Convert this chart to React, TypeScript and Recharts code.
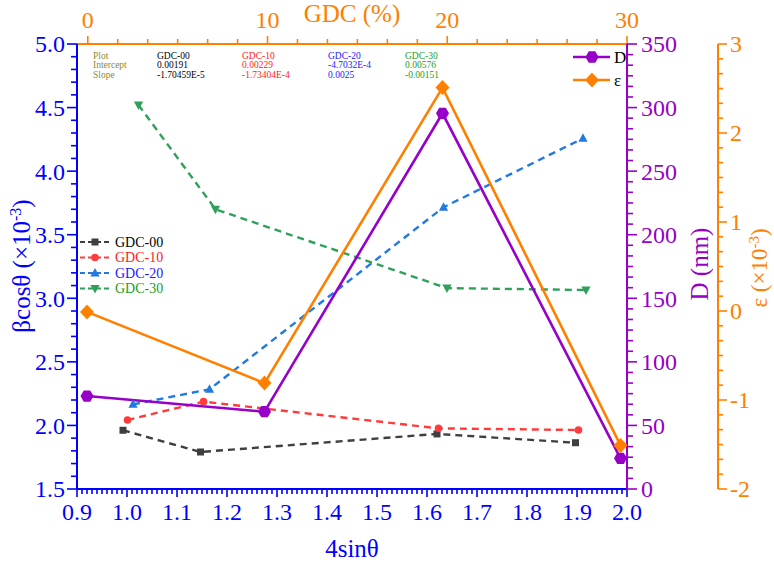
import React from 'react';
import { ComposedChart, Line, XAxis, YAxis, Legend } from 'recharts';

const W = 774;
const H = 565;
const FONT = "'Liberation Serif', 'Times New Roman', serif";

// ---- data ----
const xGdc00 = [0.992, 1.147, 1.62, 1.897];
const yGdc00 = [1.962, 1.791, 1.933, 1.864];
const xGdc10 = [1.001, 1.153, 1.623, 1.903];
const yGdc10 = [2.043, 2.187, 1.977, 1.964];
const xGdc20 = [1.012, 1.165, 1.633, 1.912];
const yGdc20 = [2.166, 2.284, 3.716, 4.258];
const xGdc30 = [1.023, 1.177, 1.64, 1.918];
const yGdc30 = [4.52, 3.7, 3.08, 3.065];

const xSize = [0.92, 1.275, 1.631, 1.987];
const dValues = [73.1, 60.8, 295.5, 24.1];
const epsValues = [-0.01, -0.81, 2.51, -1.51];

// ---- tick labels ----
const bottomMajor = [0.9, 1.0, 1.1, 1.2, 1.3, 1.4, 1.5, 1.6, 1.7, 1.8, 1.9, 2.0];
const leftMajor = [1.5, 2.0, 2.5, 3.0, 3.5, 4.0, 4.5, 5.0];
const dMajor = [0, 50, 100, 150, 200, 250, 300, 350];
const epsMajor = [-2, -1, 0, 1, 2, 3];
const topMajor = [0, 10, 20, 30];

const tableRows = ['Plot', 'Intercept', 'Slope'];
const tableCols = [
  { name: 'GDC-00', intercept: '0.00191', slope: '-1.70459E-5' },
  { name: 'GDC-10', intercept: '0.00229', slope: '-1.73404E-4' },
  { name: 'GDC-20', intercept: '-4.7032E-4', slope: '0.0025' },
  { name: 'GDC-30', intercept: '0.00576', slope: '-0.00151' },
];

// ---- colours ----
const C_AXIS = '#0000ff';
const C_ORANGE = '#ff8000';
const C_PURPLE = '#9600c8';
const C_GRAY = '#3f3f3f';
const C_RED = '#ff3b3b';
const C_BLUE = '#2279e0';
const C_GREEN = '#2ea05a';
const C_OLIVE = '#8b8b30';
const TBL_COLORS = ['#000000', '#ff2020', '#1a1aff', '#22a022'];

const zip = (xs: number[], ys: number[]) => xs.map((x, i) => ({ x, y: ys[i] }));

const s00 = zip(xGdc00, yGdc00);
const s10 = zip(xGdc10, yGdc10);
const s20 = zip(xGdc20, yGdc20);
const s30 = zip(xGdc30, yGdc30);
const sD = zip(xSize, dValues);
const sE = zip(xSize, epsValues);

function withMinor(majors: number[], parts: number): number[] {
  const out: number[] = [];
  for (let i = 0; i < majors.length; i++) {
    out.push(majors[i]);
    if (i < majors.length - 1) {
      const step = (majors[i + 1] - majors[i]) / parts;
      for (let k = 1; k < parts; k++) out.push(+(majors[i] + step * k).toFixed(5));
    }
  }
  return out;
}

// ---- markers ----
type MK = 'square' | 'circle' | 'triUp' | 'triDown' | 'hex' | 'diamond';
function Marker({ kind, cx, cy, color }: { kind: MK; cx: number; cy: number; color: string }) {
  switch (kind) {
    case 'square':
      return <rect x={cx - 3.5} y={cy - 3.5} width={7} height={7} fill={color} />;
    case 'circle':
      return <circle cx={cx} cy={cy} r={3.8} fill={color} />;
    case 'triUp':
      return <polygon points={`${cx},${cy - 5} ${cx - 4.6},${cy + 3.5} ${cx + 4.6},${cy + 3.5}`} fill={color} />;
    case 'triDown':
      return <polygon points={`${cx},${cy + 5} ${cx - 4.6},${cy - 3.5} ${cx + 4.6},${cy - 3.5}`} fill={color} />;
    case 'hex': {
      const r = 6.5;
      const pts = [0, 60, 120, 180, 240, 300]
        .map((a) => `${cx + r * Math.cos((a * Math.PI) / 180)},${cy + r * Math.sin((a * Math.PI) / 180)}`)
        .join(' ');
      return <polygon points={pts} fill={color} />;
    }
    case 'diamond':
      return <polygon points={`${cx},${cy - 7.5} ${cx + 7},${cy} ${cx},${cy + 7.5} ${cx - 7},${cy}`} fill={color} />;
  }
  return null;
}

const dotFor = (kind: MK, color: string) => (p: any) => {
  if (p.cx == null || p.cy == null) return <g key={p.index} />;
  return <Marker key={p.index} kind={kind} cx={p.cx} cy={p.cy} color={color} />;
};

// ---- ticks ----
type Side = 'left' | 'right' | 'bottom' | 'top';
interface TickCfg {
  side: Side;
  color: string;
  majors: number[];
  fmt: (v: number) => string;
  majorLen: number;
  minorLen: number;
  gap: number;
  fontSize: number;
}
const makeTick = (cfg: TickCfg) => (props: any) => {
  const { x, y, payload } = props;
  const v = payload.value as number;
  const isMajor = cfg.majors.some((m) => Math.abs(m - v) < 1e-6);
  const len = isMajor ? cfg.majorLen : cfg.minorLen;
  const common = { stroke: cfg.color, strokeWidth: 1.6 };
  let line: React.ReactNode = null;
  let label: React.ReactNode = null;
  const tp = { fill: cfg.color, fontSize: cfg.fontSize, style: { fontFamily: FONT } };
  if (cfg.side === 'left') {
    line = <line x1={x} y1={y} x2={x - len} y2={y} {...common} />;
    if (isMajor) label = <text x={x - len - cfg.gap} y={y} dy="0.35em" textAnchor="end" {...tp}>{cfg.fmt(v)}</text>;
  } else if (cfg.side === 'right') {
    line = <line x1={x} y1={y} x2={x + len} y2={y} {...common} />;
    if (isMajor) label = <text x={x + len + cfg.gap} y={y} dy="0.35em" textAnchor="start" {...tp}>{cfg.fmt(v)}</text>;
  } else if (cfg.side === 'bottom') {
    line = <line x1={x} y1={y} x2={x} y2={y + len} {...common} />;
    if (isMajor) label = <text x={x} y={y + len + cfg.gap} dy="0.71em" textAnchor="middle" {...tp}>{cfg.fmt(v)}</text>;
  } else {
    line = <line x1={x} y1={y} x2={x} y2={y - len} {...common} />;
    if (isMajor) label = <text x={x} y={y - len - cfg.gap} textAnchor="middle" {...tp}>{cfg.fmt(v)}</text>;
  }
  return (
    <g>
      {line}
      {label}
    </g>
  );
};

const f1 = (v: number) => v.toFixed(1);
const f0 = (v: number) => String(Math.round(v));

const bottomTick = makeTick({ side: 'bottom', color: C_AXIS, majors: bottomMajor, fmt: f1, majorLen: 8, minorLen: 5, gap: 6, fontSize: 24 });
const leftTick = makeTick({ side: 'left', color: C_AXIS, majors: leftMajor, fmt: f1, majorLen: 10, minorLen: 6, gap: 2, fontSize: 24 });
const dTick = makeTick({ side: 'right', color: C_PURPLE, majors: dMajor, fmt: f0, majorLen: 10, minorLen: 6, gap: 4, fontSize: 24 });
const eTick = makeTick({ side: 'right', color: C_ORANGE, majors: epsMajor, fmt: f0, majorLen: 9, minorLen: 5, gap: 3, fontSize: 24 });
const topTick = makeTick({ side: 'top', color: C_ORANGE, majors: topMajor, fmt: f0, majorLen: 8, minorLen: 5, gap: 8, fontSize: 24 });

// ---- overlay: legends, table and axis titles ----
const seriesLegend = [
  { name: 'GDC-00', color: C_GRAY, text: '#000000', kind: 'square' as MK },
  { name: 'GDC-10', color: C_RED, text: '#ff2020', kind: 'circle' as MK },
  { name: 'GDC-20', color: C_BLUE, text: '#1a1aff', kind: 'triUp' as MK },
  { name: 'GDC-30', color: C_GREEN, text: '#22a022', kind: 'triDown' as MK },
];
const rightLegend = [
  { name: 'D', color: C_PURPLE, kind: 'hex' as MK },
  { name: 'ε', color: C_ORANGE, kind: 'diamond' as MK },
];

function Overlay() {
  const tfs = 9.5;
  const colX = [157, 242, 328, 405];
  const rowY = [58.5, 68, 77.5];
  const titleFs = 25;
  const st = { fontFamily: FONT };
  return (
    <svg width={W} height={H} style={{ position: 'absolute', left: 0, top: 0, pointerEvents: 'none' }}>
      {/* fit table */}
      {tableRows.map((r, i) => (
        <text key={r} x={93} y={rowY[i]} fontSize={tfs} style={st} fill={C_OLIVE}>{r}</text>
      ))}
      {tableCols.map((c, j) => (
        <g key={c.name} fill={TBL_COLORS[j]} fontSize={tfs} style={st}>
          <text x={colX[j]} y={rowY[0]}>{c.name}</text>
          <text x={colX[j]} y={rowY[1]}>{c.intercept}</text>
          <text x={colX[j]} y={rowY[2]}>{c.slope}</text>
        </g>
      ))}
      {/* left legend */}
      {seriesLegend.map((s, i) => {
        const y = 242 + i * 15.5;
        return (
          <g key={s.name}>
            <line x1={80} y1={y} x2={110} y2={y} stroke={s.color} strokeWidth={2.2} strokeDasharray="5 3" />
            <Marker kind={s.kind} cx={95} cy={y} color={s.color} />
            <text x={115} y={y} dy="0.35em" fontSize={14} style={st} fill={s.text}>{s.name}</text>
          </g>
        );
      })}
      {/* right legend */}
      {rightLegend.map((s, i) => {
        const y = 57 + i * 23;
        return (
          <g key={s.name}>
            <line x1={573} y1={y} x2={610} y2={y} stroke={s.color} strokeWidth={2.5} />
            <Marker kind={s.kind} cx={592} cy={y} color={s.color} />
            <text x={614} y={y} dy="0.35em" fontSize={17} style={st} fill="#000">{s.name}</text>
          </g>
        );
      })}
      {/* axis titles */}
      <text x={352} y={557} textAnchor="middle" fontSize={titleFs} style={st} fill={C_AXIS}>4sinθ</text>
      <text x={352} y={22} textAnchor="middle" fontSize={titleFs} style={st} fill={C_ORANGE}>GDC (%)</text>
      <text transform={`translate(${21 + 0.35 * titleFs},266) rotate(-90)`} textAnchor="middle" fontSize={titleFs} style={st} fill={C_AXIS}>
        βcosθ (×10<tspan dy={-9} fontSize={16}>-3</tspan><tspan dy={9}>)</tspan>
      </text>
      <text transform={`translate(${699 + 0.35 * titleFs},264) rotate(-90)`} textAnchor="middle" fontSize={titleFs} style={st} fill={C_PURPLE}>D (nm)</text>
      <text transform={`translate(${759 + 0.35 * 23},268) rotate(-90)`} textAnchor="middle" fontSize={23} style={st} fill={C_ORANGE}>
        ε (×10<tspan dy={-8} fontSize={15}>-3</tspan><tspan dy={8}>)</tspan>
      </text>
    </svg>
  );
}

export default function App() {
  return (
    <div style={{ position: 'absolute', left: 0, top: 0, width: W, height: H, background: '#fff', fontFamily: FONT }}>
      <ComposedChart width={W} height={H} margin={{ top: 0, right: 0, bottom: 0, left: 0 }} style={{ fontFamily: FONT }}>
        <XAxis
          xAxisId="b"
          type="number"
          dataKey="x"
          domain={[0.9, 2.0]}
          ticks={withMinor(bottomMajor, 10)}
          interval={0}
          height={76}
          tickSize={0}
          tickMargin={0}
          tickLine={false}
          axisLine={{ stroke: C_AXIS, strokeWidth: 2 }}
          tick={bottomTick}
          allowDataOverflow
        />
        <XAxis
          xAxisId="top"
          orientation="top"
          type="number"
          dataKey="x"
          domain={[-0.6, 30]}
          ticks={withMinor(topMajor, 6)}
          interval={0}
          height={44}
          tickSize={0}
          tickMargin={0}
          tickLine={false}
          axisLine={{ stroke: C_ORANGE, strokeWidth: 2 }}
          tick={topTick}
          allowDataOverflow
        />
        <YAxis
          yAxisId="l"
          type="number"
          domain={[1.5, 5]}
          ticks={withMinor(leftMajor, 5)}
          interval={0}
          width={77}
          tickSize={0}
          tickMargin={0}
          tickLine={false}
          axisLine={{ stroke: C_AXIS, strokeWidth: 2 }}
          tick={leftTick}
          allowDataOverflow
        />
        <YAxis
          yAxisId="d"
          orientation="right"
          type="number"
          domain={[0, 350]}
          ticks={withMinor(dMajor, 6)}
          interval={0}
          width={91}
          tickSize={0}
          tickMargin={0}
          tickLine={false}
          axisLine={{ stroke: C_PURPLE, strokeWidth: 2 }}
          tick={dTick}
          allowDataOverflow
        />
        <YAxis
          yAxisId="e"
          orientation="right"
          type="number"
          domain={[-2, 3]}
          ticks={withMinor(epsMajor, 6)}
          interval={0}
          width={56}
          tickSize={0}
          tickMargin={0}
          tickLine={false}
          axisLine={{ stroke: C_ORANGE, strokeWidth: 2 }}
          tick={eTick}
          allowDataOverflow
        />
        <Line xAxisId="b" yAxisId="l" data={s00} dataKey="y" name="GDC-00" stroke={C_GRAY} strokeWidth={2.4} strokeDasharray="7 5" dot={dotFor('square', C_GRAY)} isAnimationActive={false} />
        <Line xAxisId="b" yAxisId="l" data={s10} dataKey="y" name="GDC-10" stroke={C_RED} strokeWidth={2.4} strokeDasharray="7 5" dot={dotFor('circle', C_RED)} isAnimationActive={false} />
        <Line xAxisId="b" yAxisId="l" data={s20} dataKey="y" name="GDC-20" stroke={C_BLUE} strokeWidth={2.4} strokeDasharray="7 5" dot={dotFor('triUp', C_BLUE)} isAnimationActive={false} />
        <Line xAxisId="b" yAxisId="l" data={s30} dataKey="y" name="GDC-30" stroke={C_GREEN} strokeWidth={2.4} strokeDasharray="7 5" dot={dotFor('triDown', C_GREEN)} isAnimationActive={false} />
        <Line xAxisId="b" yAxisId="d" data={sD} dataKey="y" name="D" stroke={C_PURPLE} strokeWidth={2.6} dot={dotFor('hex', C_PURPLE)} isAnimationActive={false} />
        <Line xAxisId="b" yAxisId="e" data={sE} dataKey="y" name="ε" stroke={C_ORANGE} strokeWidth={2.6} dot={dotFor('diamond', C_ORANGE)} isAnimationActive={false} />
        <Legend
          layout="vertical"
          align="center"
          verticalAlign="middle"
          wrapperStyle={{ position: 'absolute', left: 0, top: 0, width: W, height: H, margin: 0, padding: 0, pointerEvents: 'none' }}
          content={() => <Overlay />}
        />
      </ComposedChart>
    </div>
  );
}
